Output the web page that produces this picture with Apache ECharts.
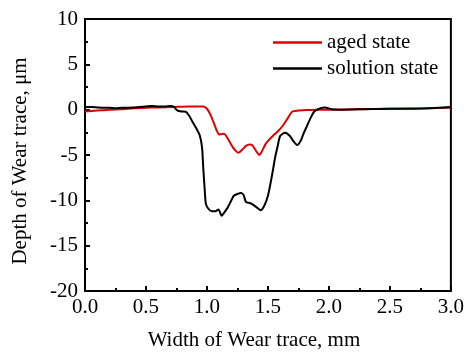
<!DOCTYPE html>
<html>
<head>
<meta charset="utf-8">
<title>Wear trace</title>
<script src="https://cdn.jsdelivr.net/npm/echarts@6/dist/echarts.min.js"></script>
<style>
  html, body { margin: 0; padding: 0; background: #fff; }
  #main { width: 467px; height: 356px; }
</style>
</head>
<body>
<div id="main"></div>
<script>
// values (x in mm, depth in um)
var agedX = [0.00, 0.10, 0.20, 0.30, 0.40, 0.50, 0.60, 0.73, 0.85, 0.97, 1.00, 1.03, 1.06, 1.08, 1.10, 1.13, 1.15, 1.18, 1.21, 1.24, 1.26, 1.29, 1.32, 1.35, 1.37, 1.40, 1.43, 1.45, 1.48, 1.51, 1.54, 1.58, 1.62, 1.66, 1.70, 1.75, 1.81, 1.90, 2.00, 2.20, 2.50, 2.80, 3.00];
var agedY = [-0.2, -0.1, 0.0, 0.05, 0.15, 0.2, 0.25, 0.3, 0.35, 0.35, 0.1, -0.6, -1.6, -2.3, -2.75, -2.65, -2.75, -3.4, -4.1, -4.6, -4.75, -4.4, -4.0, -3.85, -3.9, -4.5, -5.0, -4.6, -3.8, -3.3, -2.9, -2.4, -1.8, -1.0, -0.2, -0.1, -0.05, 0.0, 0.0, 0.05, 0.1, 0.15, 0.2];

var solX = [0.00, 0.05, 0.10, 0.15, 0.20, 0.25, 0.30, 0.35, 0.40, 0.45, 0.50, 0.55, 0.60, 0.65, 0.70, 0.73, 0.75, 0.77, 0.80, 0.83, 0.86, 0.88, 0.91, 0.94, 0.96, 0.97, 0.98, 0.99, 1.01, 1.04, 1.07, 1.095, 1.12, 1.15, 1.17, 1.20, 1.22, 1.25, 1.28, 1.30, 1.32, 1.35, 1.38, 1.41, 1.44, 1.47, 1.50, 1.53, 1.56, 1.58, 1.60, 1.64, 1.68, 1.71, 1.74, 1.77, 1.79, 1.82, 1.85, 1.88, 1.92, 1.97, 2.02, 2.10, 2.30, 2.50, 2.70, 2.90, 3.00];
var solY = [0.3, 0.3, 0.25, 0.2, 0.2, 0.15, 0.2, 0.2, 0.25, 0.3, 0.35, 0.4, 0.35, 0.35, 0.4, 0.3, 0.0, -0.15, -0.2, -0.25, -0.8, -1.3, -2.0, -2.8, -4.2, -6.5, -8.5, -10.3, -10.9, -11.2, -11.2, -11.0, -11.7, -11.2, -10.8, -10.0, -9.5, -9.3, -9.2, -9.4, -10.2, -10.3, -10.5, -10.8, -11.1, -10.6, -9.5, -7.5, -5.2, -4.0, -2.9, -2.55, -2.9, -3.5, -3.9, -3.4, -2.7, -1.8, -0.9, -0.2, 0.1, 0.25, 0.05, 0.0, 0.05, 0.1, 0.1, 0.2, 0.3];

function pairs(xs, ys) {
  var out = [];
  for (var i = 0; i < xs.length; i++) out.push([xs[i], ys[i]]);
  return out;
}

var font = 'Liberation Serif';
var fs = 21;
var chart = echarts.init(document.getElementById('main'));

var option = {
  animation: false,
  backgroundColor: '#fff',
  grid: {
    left: 85, right: 14, top: 19, bottom: 63,
    show: true, borderColor: '#000', borderWidth: 2, backgroundColor: 'transparent'
  },
  legend: {
    orient: 'vertical',
    left: 273, top: 32,
    padding: 0,
    icon: 'rect',
    itemWidth: 49, itemHeight: 2.5, itemGap: 5,
    textStyle: { fontFamily: font, fontSize: fs, color: '#000' },
    data: ['aged state', 'solution state']
  },
  xAxis: {
    type: 'value',
    min: 0, max: 3, interval: 0.5,
    name: 'Width of Wear trace, mm',
    nameLocation: 'middle',
    nameGap: 39,
    nameTextStyle: { fontFamily: font, fontSize: fs, color: '#000', padding: [0, 28, 0, 0] },
    axisLine: { onZero: false, lineStyle: { color: '#000', width: 2 } },
    axisTick: { inside: true, length: 5, lineStyle: { color: '#000', width: 2 } },
    minorTick: { show: true, splitNumber: 2, length: 3, lineStyle: { color: '#000', width: 2 } },
    axisLabel: {
      margin: 6, fontFamily: font, fontSize: fs, color: '#000',
      formatter: function (v) { return v.toFixed(1); }
    },
    splitLine: { show: false }
  },
  yAxis: {
    type: 'value',
    min: -20, max: 10, interval: 5,
    name: 'Depth of Wear trace, \u03bcm',
    nameLocation: 'middle',
    nameGap: 54,
    nameTextStyle: { fontFamily: font, fontSize: fs, color: '#000', padding: [0, 12, 0, 0] },
    axisLine: { lineStyle: { color: '#000', width: 2 } },
    axisTick: { inside: true, length: 5, lineStyle: { color: '#000', width: 2 } },
    minorTick: { show: true, splitNumber: 2, length: 3, lineStyle: { color: '#000', width: 2 } },
    axisLabel: { margin: 7, fontFamily: font, fontSize: fs, color: '#000' },
    splitLine: { show: false }
  },
  series: [
    {
      name: 'aged state',
      type: 'line',
      symbol: 'none',
      smooth: 0.2,
      color: '#e00000',
      lineStyle: { color: '#e00000', width: 2 },
      data: pairs(agedX, agedY)
    },
    {
      name: 'solution state',
      type: 'line',
      symbol: 'none',
      smooth: 0.2,
      color: '#000',
      lineStyle: { color: '#000', width: 2 },
      data: pairs(solX, solY)
    }
  ]
};

chart.setOption(option);
</script>
</body>
</html>
